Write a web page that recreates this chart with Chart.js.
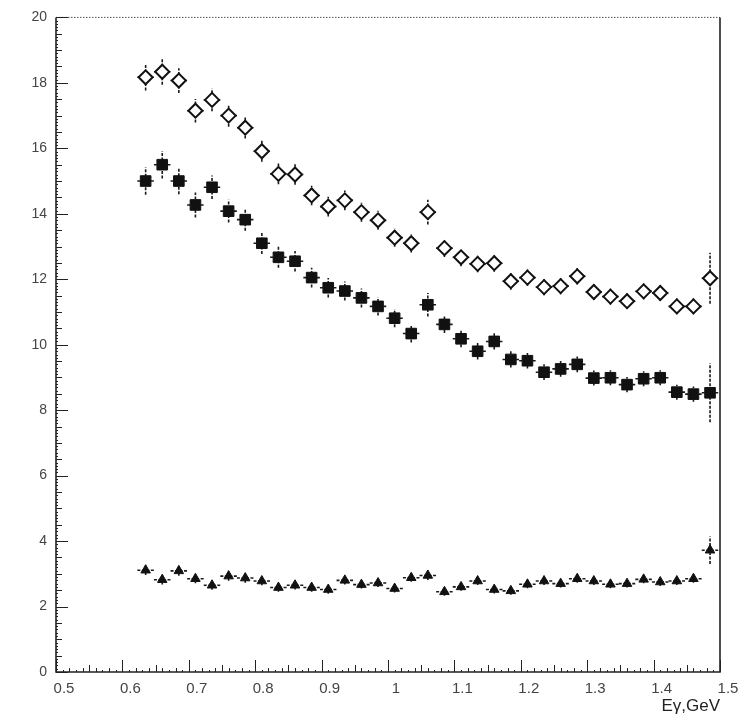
<!DOCTYPE html>
<html>
<head>
<meta charset="utf-8">
<script src="https://cdn.jsdelivr.net/npm/chart.js@4"></script>
<style>
  html, body { margin: 0; padding: 0; background: #fff; }
  #wrap { width: 741px; height: 720px; }
</style>
</head>
<body>
<div id="wrap"><canvas id="plot" width="741" height="720"></canvas></div>
<script>
// photon energy bins, GeV
const energy = [0.635, 0.66, 0.685, 0.71, 0.735, 0.76, 0.785, 0.81, 0.835, 0.86,
  0.885, 0.91, 0.935, 0.96, 0.985, 1.01, 1.035, 1.06, 1.085, 1.11,
  1.135, 1.16, 1.185, 1.21, 1.235, 1.26, 1.285, 1.31, 1.335, 1.36,
  1.385, 1.41, 1.435, 1.46, 1.485];

// open diamonds
const openVals = [18.17, 18.34, 18.07, 17.15, 17.48, 17.0, 16.63, 15.91, 15.22, 15.2,
  14.56, 14.22, 14.41, 14.05, 13.8, 13.27, 13.1, 14.05, 12.95, 12.67,
  12.47, 12.49, 11.94, 12.05, 11.76, 11.79, 12.09, 11.61, 11.47, 11.33,
  11.63, 11.58, 11.17, 11.17, 12.03];
const openErr = [0.4, 0.4, 0.38, 0.36, 0.35, 0.34, 0.33, 0.32, 0.32, 0.31,
  0.3, 0.3, 0.3, 0.29, 0.29, 0.28, 0.28, 0.38, 0.27, 0.27,
  0.26, 0.26, 0.26, 0.25, 0.25, 0.25, 0.25, 0.24, 0.24, 0.24,
  0.24, 0.24, 0.24, 0.24, 0.78];

// filled squares
const fullVals = [15.0, 15.5, 15.0, 14.27, 14.81, 14.08, 13.82, 13.1, 12.67, 12.55,
  12.05, 11.74, 11.64, 11.43, 11.17, 10.81, 10.34, 11.22, 10.62, 10.18,
  9.8, 10.1, 9.55, 9.51, 9.16, 9.26, 9.4, 8.98, 8.99, 8.78,
  8.96, 8.99, 8.55, 8.49, 8.53];
const fullErr = [0.42, 0.42, 0.4, 0.38, 0.36, 0.35, 0.34, 0.33, 0.32, 0.31,
  0.3, 0.3, 0.29, 0.29, 0.28, 0.28, 0.27, 0.36, 0.26, 0.26,
  0.25, 0.25, 0.25, 0.24, 0.24, 0.24, 0.24, 0.23, 0.23, 0.23,
  0.23, 0.23, 0.23, 0.23, 0.9];

// filled triangles
const triVals = [3.11, 2.82, 3.09, 2.85, 2.65, 2.93, 2.87, 2.78, 2.58, 2.65,
  2.58, 2.52, 2.8, 2.67, 2.72, 2.55, 2.88, 2.95, 2.45, 2.6,
  2.78, 2.52, 2.48, 2.68, 2.78, 2.7, 2.85, 2.78, 2.68, 2.7,
  2.83, 2.75, 2.78, 2.85, 3.72];
const triErr = [0.15, 0.15, 0.15, 0.14, 0.14, 0.14, 0.14, 0.13, 0.13, 0.13,
  0.13, 0.13, 0.13, 0.12, 0.12, 0.12, 0.12, 0.14, 0.12, 0.12,
  0.12, 0.12, 0.12, 0.12, 0.12, 0.12, 0.12, 0.12, 0.12, 0.12,
  0.12, 0.12, 0.12, 0.12, 0.42];

const binHalf = 0.0125;

const xTicks = [0.5, 0.6, 0.7, 0.8, 0.9, 1.0, 1.1, 1.2, 1.3, 1.4, 1.5];
const yTicks = [0, 2, 4, 6, 8, 10, 12, 14, 16, 18, 20];

function pts(vals, errs) {
  return energy.map((e, i) => ({ x: e, y: vals[i], err: errs[i] }));
}

// error bars under the markers
const errorBars = {
  id: "errorBars",
  beforeDatasetsDraw(chart) {
    const ctx = chart.ctx;
    const xs = chart.scales.x, ys = chart.scales.y;
    ctx.save();
    ctx.strokeStyle = "#1a1a1a";
    ctx.lineWidth = 1.6;
    ctx.setLineDash([3, 1.5]);
    chart.data.datasets.forEach(ds => {
      ds.data.forEach(p => {
        const px = xs.getPixelForValue(p.x);
        const py = ys.getPixelForValue(p.y);
        ctx.beginPath();
        ctx.moveTo(px, ys.getPixelForValue(p.y - p.err));
        ctx.lineTo(px, ys.getPixelForValue(p.y + p.err));
        ctx.moveTo(xs.getPixelForValue(p.x - binHalf), py);
        ctx.lineTo(xs.getPixelForValue(p.x + binHalf), py);
        ctx.stroke();
      });
    });
    ctx.restore();
  }
};

// frame and inward ticks
const frame = {
  id: "frame",
  afterDraw(chart) {
    const ctx = chart.ctx;
    const a = chart.chartArea;
    const xs = chart.scales.x, ys = chart.scales.y;
    ctx.save();
    ctx.strokeStyle = "#555";
    ctx.lineWidth = 1;
    ctx.setLineDash([1.5, 1.5]);
    ctx.beginPath();
    ctx.moveTo(a.left, a.top);
    ctx.lineTo(a.right, a.top);
    ctx.stroke();
    ctx.setLineDash([]);
    ctx.strokeStyle = "#222";
    ctx.lineWidth = 1.6;
    ctx.beginPath();
    ctx.moveTo(a.right, a.top);
    ctx.lineTo(a.right, a.bottom);
    ctx.lineTo(a.left, a.bottom);
    ctx.lineTo(a.left, a.top);
    ctx.stroke();

    ctx.lineWidth = 1;
    for (let k = 0; k <= 200; k++) {
      const v = k * 0.1;
      const len = k % 20 === 0 ? 12 : (k % 5 === 0 ? 6 : 2);
      const py = Math.round(ys.getPixelForValue(v)) + 0.5;
      ctx.beginPath();
      ctx.moveTo(a.left, py);
      ctx.lineTo(a.left + len, py);
      ctx.stroke();
    }
    for (let k = 0; k <= 100; k++) {
      const v = 0.5 + k * 0.01;
      const len = k % 10 === 0 ? 12 : (k % 5 === 0 ? 7 : (k % 2 === 0 ? 4 : 2));
      const px = Math.round(xs.getPixelForValue(v)) + 0.5;
      ctx.beginPath();
      ctx.moveTo(px, a.bottom);
      ctx.lineTo(px, a.bottom - len);
      ctx.stroke();
    }
    ctx.restore();
  }
};

new Chart(document.getElementById("plot"), {
  type: "scatter",
  data: {
    datasets: [
      {
        label: "open",
        data: pts(openVals, openErr),
        pointStyle: "rectRot",
        pointRadius: 7,
        pointBackgroundColor: "#fff",
        pointBorderColor: "#111",
        pointBorderWidth: 2
      },
      {
        label: "full",
        data: pts(fullVals, fullErr),
        pointStyle: "rect",
        pointRadius: 7.5,
        pointBackgroundColor: "#111",
        pointBorderColor: "#111",
        pointBorderWidth: 1
      },
      {
        label: "tri",
        data: pts(triVals, triErr),
        pointStyle: "triangle",
        pointRadius: 5.5,
        pointBackgroundColor: "#111",
        pointBorderColor: "#111",
        pointBorderWidth: 1
      }
    ]
  },
  options: {
    responsive: false,
    animation: false,
    layout: { padding: { top: 17, right: 21, left: 0, bottom: 0 } },
    plugins: { legend: { display: false }, tooltip: { enabled: false } },
    scales: {
      x: {
        type: "linear",
        min: 0.5,
        max: 1.5,
        afterBuildTicks: s => { s.ticks = xTicks.map(v => ({ value: v })); },
        afterFit: s => { s.height = 48; },
        grid: { display: false, drawTicks: false },
        border: { display: false },
        ticks: {
          padding: 8,
          labelOffset: 8,
          color: "#444",
          font: { family: "Liberation Sans", size: 15 },
          callback: v => String(v)
        },
        title: {
          display: true,
          text: "Eγ,GeV",
          align: "end",
          color: "#222",
          font: { family: "Liberation Sans", size: 17 },
          padding: { top: 0, bottom: 3 }
        }
      },
      y: {
        min: 0,
        max: 20,
        afterBuildTicks: s => { s.ticks = yTicks.map(v => ({ value: v })); },
        afterFit: s => { s.width = 56; },
        grid: { display: false, drawTicks: false },
        border: { display: false },
        ticks: {
          padding: 9,
          color: "#444",
          font: { family: "Liberation Sans", size: 14 }
        }
      }
    }
  },
  plugins: [errorBars, frame]
});
</script>
</body>
</html>
